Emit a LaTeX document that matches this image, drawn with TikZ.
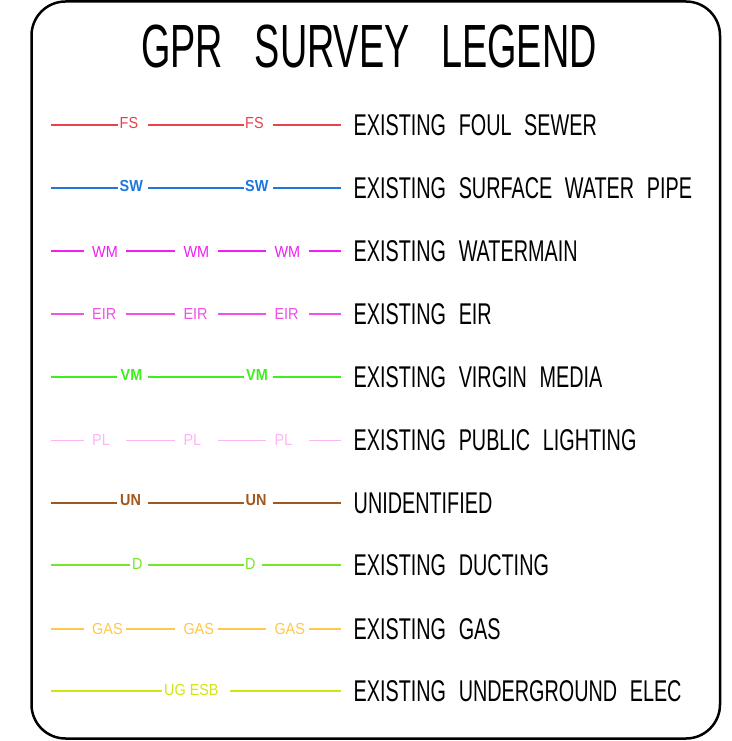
\documentclass[tikz,border=0pt]{standalone}
\usepackage{fontspec}
\newfontfamily\titlefont[FakeStretch=0.62,WordSpace=3.0]{Liberation Sans}
\newfontfamily\legfont[FakeStretch=0.66,WordSpace=2.3]{Liberation Sans}
\newfontfamily\labfont[FakeStretch=0.9]{Liberation Sans}
\definecolor{cFS}{HTML}{E8424A}
\definecolor{cSW}{HTML}{1E78DC}
\definecolor{cWM}{HTML}{F01EF0}
\definecolor{cEIR}{HTML}{F050E6}
\definecolor{cVM}{HTML}{3CF01E}
\definecolor{cPL}{HTML}{FFB4F5}
\definecolor{cUN}{HTML}{A0581E}
\definecolor{cD}{HTML}{78E628}
\definecolor{cGAS}{HTML}{FFC846}
\definecolor{cUG}{HTML}{D2E614}
\tikzset{
  gapnode/.style={anchor=west, inner xsep=0pt, inner ysep=3pt, fill=white,
    font=\labfont\fontsize{16}{16}\selectfont},
  legtext/.style={anchor=west, inner sep=0pt, font=\legfont\fontsize{30}{30}\selectfont},
  frame/.style={line width=2.5pt, rounded corners=34pt}
}
% #1 name, #2 x1, #3 x2, #4 text x, #5 y, #6 colour, #7 text
\newcommand\legbreak[7]{%
  \node[gapnode,text=#6] (#1) at (#2,#5)
    {\makebox[\dimexpr #3pt - #2pt\relax][l]{\hspace{\dimexpr #4pt - #2pt\relax}#7}};}
\begin{document}
\begin{tikzpicture}[x=1pt,y=-1pt]
\useasboundingbox (0,0) rectangle (731,741);
\fill[white] (0,0) rectangle (731,741);
\draw[frame] (31.5,1.5) rectangle (720,738.5);
\node[inner sep=0pt, font=\titlefont\fontsize{61}{61}\selectfont] (title) at (369,47) {GPR SURVEY LEGEND};

% FS
\coordinate (fsA) at (51,125); \coordinate (fsB) at (341,125);
\draw[cFS, line width=1.2pt] (fsA) -- (fsB);
\legbreak{fs1}{117.5}{148}{119.5}{122.5}{cFS}{FS}
\legbreak{fs2}{243.5}{273}{245}{122.5}{cFS}{FS}
\node[legtext] (tfs) at (353.5,125) {EXISTING FOUL SEWER};

% SW
\coordinate (swA) at (51,188); \coordinate (swB) at (341,188);
\draw[cSW, line width=2pt] (swA) -- (swB);
\legbreak{sw1}{117.5}{148}{119.5}{185.5}{cSW}{\bfseries SW}
\legbreak{sw2}{243.5}{273}{245}{185.5}{cSW}{\bfseries SW}
\node[legtext] (tsw) at (353.5,188) {EXISTING SURFACE WATER PIPE};

% WM
\coordinate (wmA) at (51,251); \coordinate (wmB) at (341,251);
\draw[cWM, line width=1.2pt] (wmA) -- (wmB);
\legbreak{wm1}{83.3}{126}{92}{252}{cWM}{WM}
\legbreak{wm2}{175}{217.7}{183.3}{252}{cWM}{WM}
\legbreak{wm3}{266}{308.3}{274.3}{252}{cWM}{WM}
\node[legtext] (twm) at (353.5,251) {EXISTING WATERMAIN};

% EIR
\coordinate (eiA) at (51,314); \coordinate (eiB) at (341,314);
\draw[cEIR, line width=1.2pt] (eiA) -- (eiB);
\legbreak{ei1}{83.3}{126}{92}{314}{cEIR}{EIR}
\legbreak{ei2}{175}{217.7}{183.3}{314}{cEIR}{EIR}
\legbreak{ei3}{266}{308.3}{274.3}{314}{cEIR}{EIR}
\node[legtext] (tei) at (353.5,314) {EXISTING EIR};

% VM
\coordinate (vmA) at (51,377); \coordinate (vmB) at (341,377);
\draw[cVM, line width=1.8pt] (vmA) -- (vmB);
\legbreak{vm1}{117}{148}{120.5}{375}{cVM}{\bfseries VM}
\legbreak{vm2}{244}{273}{246}{375}{cVM}{\bfseries VM}
\node[legtext] (tvm) at (353.5,377) {EXISTING VIRGIN MEDIA};

% PL
\coordinate (plA) at (51,440); \coordinate (plB) at (341,440);
\draw[cPL, line width=1pt] (plA) -- (plB);
\legbreak{pl1}{83.3}{126}{92}{440}{cPL}{PL}
\legbreak{pl2}{175}{217.7}{183.3}{440}{cPL}{PL}
\legbreak{pl3}{266}{308.3}{274.3}{440}{cPL}{PL}
\node[legtext] (tpl) at (353.5,440) {EXISTING PUBLIC LIGHTING};

% UN
\coordinate (unA) at (51,503); \coordinate (unB) at (341,503);
\draw[cUN, line width=2.2pt] (unA) -- (unB);
\legbreak{un1}{117}{148}{120}{500.5}{cUN}{\bfseries UN}
\legbreak{un2}{244}{273}{245.5}{500.5}{cUN}{\bfseries UN}
\node[legtext] (tun) at (353.5,503) {UNIDENTIFIED};

% D
\coordinate (dA) at (51,565); \coordinate (dB) at (341,565);
\draw[cD, line width=1.6pt] (dA) -- (dB);
\legbreak{d1}{130}{148}{132}{563.5}{cD}{D}
\legbreak{d2}{244}{262}{245}{563.5}{cD}{D}
\node[legtext] (td) at (353.5,565) {EXISTING DUCTING};

% GAS
\coordinate (gaA) at (51,629); \coordinate (gaB) at (341,629);
\draw[cGAS, line width=1.8pt] (gaA) -- (gaB);
\legbreak{ga1}{83.3}{126}{92}{629}{cGAS}{GAS}
\legbreak{ga2}{175}{217.7}{183.3}{629}{cGAS}{GAS}
\legbreak{ga3}{266}{308.3}{274.3}{629}{cGAS}{GAS}
\node[legtext] (tga) at (353.5,629) {EXISTING GAS};

% UG ESB
\coordinate (ugA) at (51,691); \coordinate (ugB) at (341,691);
\draw[cUG, line width=1.8pt] (ugA) -- (ugB);
\legbreak{ug1}{161.7}{229.3}{164}{690}{cUG}{UG ESB}
\node[legtext] (tug) at (353.5,691) {EXISTING UNDERGROUND ELEC};
\end{tikzpicture}
\end{document}
